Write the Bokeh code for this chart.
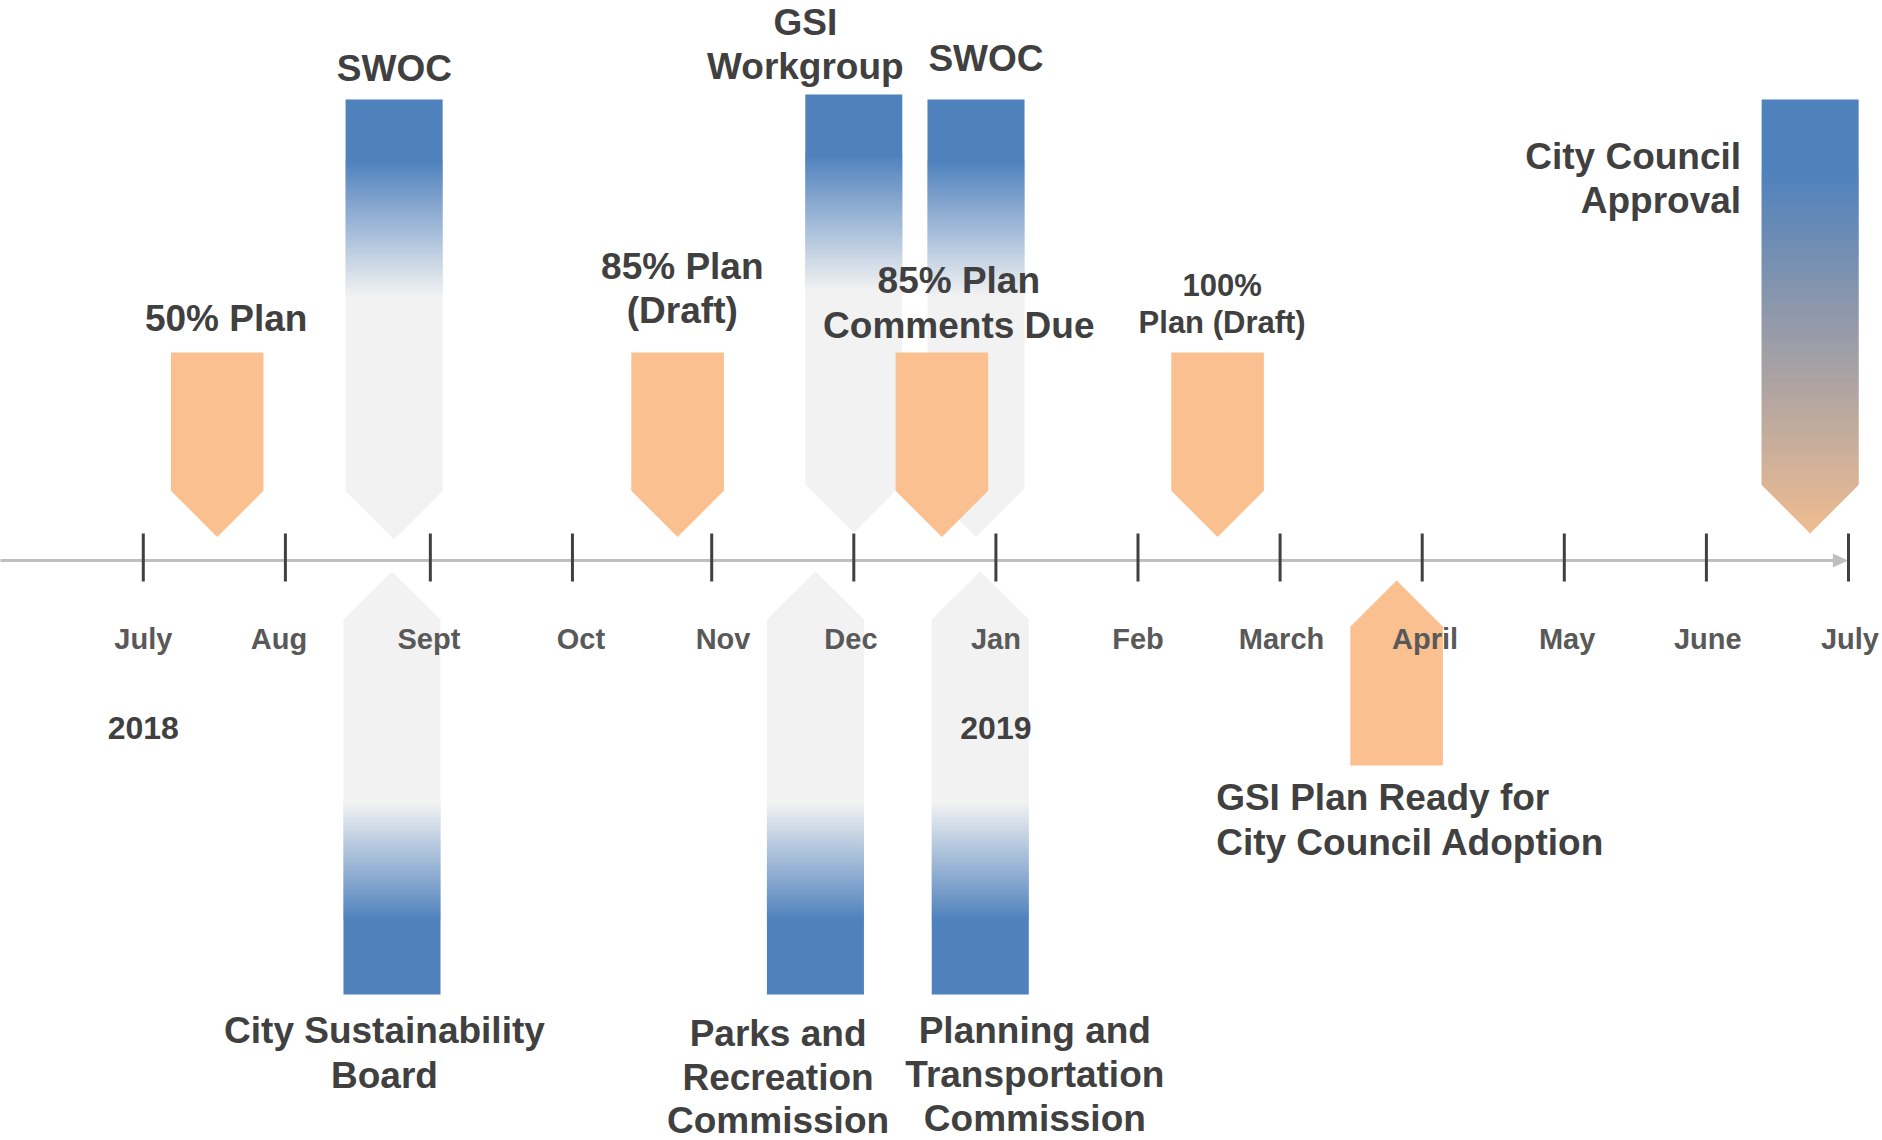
import numpy as np
from bokeh.plotting import figure
from bokeh.models import Range1d
from bokeh.embed import file_html
from bokeh.resources import INLINE
from bokeh.core.properties import value

# ---------------- data ----------------
# timeline positions are months after July 2018 (0 = July 2018, 12 = July 2019)
month_labels = ["July", "Aug", "Sept", "Oct", "Nov", "Dec", "Jan",
                "Feb", "March", "April", "May", "June", "July"]
month_ticks = [0, 1, 2.02, 3.02, 4, 5, 6, 7, 8, 9, 10, 11, 12]
year_labels = ["2018", "2019"]
year_months = [0.0, 6.0]

# milestones (orange, pointing down onto the timeline)
milestone_names = ["50% Plan", "85% Plan (Draft)", "85% Plan Comments Due", "100% Plan (Draft)"]
milestone_months = [0.52, 3.76, 5.62, 7.56]

# milestone below the timeline (orange, pointing up)
ready_names = ["GSI Plan Ready for City Council Adoption"]
ready_months = [8.82]

# meetings above the timeline (blue fading to grey, pointing down)
meeting_top_names = ["SWOC", "GSI Workgroup", "SWOC"]
meeting_top_months = [1.765, 5.00, 5.86]

# meetings below the timeline (grey fading to blue, pointing up)
meeting_bottom_names = ["City Sustainability Board", "Parks and Recreation Commission",
                        "Planning and Transportation Commission"]
meeting_bottom_months = [1.75, 4.73, 5.89]

# final approval (blue fading to orange, pointing down)
approval_names = ["City Council Approval"]
approval_months = [11.73]

# ---------------- styles / layout ----------------
BLUE = (79, 129, 189)
GREY = (242, 242, 242)
ORANGE = (250, 192, 144)
TEXT = "#404040"
MONTH_TEXT = "#595959"
FONT = value("Liberation Sans")
PX_PER_MONTH = 142.1
W, H = 1882, 1140
X0_PX = 142.8  # pixel position of month 0

month_label_nudge = [0, -0.045, -0.01, 0.06, 0.08, -0.02, 0, 0, 0.01, 0.02, 0.02, 0.01, 0.01]

p = figure(width=W, height=H,
           x_range=Range1d(-X0_PX / PX_PER_MONTH, (W - X0_PX) / PX_PER_MONTH),
           y_range=Range1d(H, 0),
           x_axis_type=None, y_axis_type=None,
           output_backend="svg", toolbar_location=None, min_border=0)
p.grid.visible = False
p.outline_line_color = None
p.background_fill_color = "white"
p.border_fill_color = "white"


def hexc(c):
    return "#%02x%02x%02x" % tuple(int(round(v)) for v in c)


def mix(c0, c1, t):
    t = min(max(t, 0.0), 1.0)
    return hexc([a + (b - a) * t for a, b in zip(c0, c1)])


def hw_down(y, h, shoulder, tip):
    if y <= shoulder:
        return h
    return max(0.0, h * (tip - y) / (tip - shoulder))


def hw_up(y, h, tip, shoulder):
    if y >= shoulder:
        return h
    return max(0.0, h * (y - tip) / (shoulder - tip))


def strips(c, g0, g1, c0, c1, hwf, xs, ys, cols):
    for y in np.arange(g0, g1, 1.0):
        y0, y1 = y, min(y + 1.6, g1)
        w0, w1 = hwf(y0), hwf(y1)
        t = (y + 0.5 - g0) / (g1 - g0)
        xs.append([c - w0, c + w0, c + w1, c - w1])
        ys.append([y0, y0, y1, y1])
        cols.append(mix(c0, c1, t))


# ---- timeline axis ----
p.segment(x0=[-1.1], y0=[560], x1=[11.92], y1=[560], line_color="#BFBFBF", line_width=3)
p.patch(x=[11.89, 11.997, 11.89], y=[553, 560, 567], fill_color="#BFBFBF", line_color=None)
p.segment(x0=month_ticks, y0=[533] * 13, x1=month_ticks, y1=[581] * 13,
          line_color="#404040", line_width=3)

# ---- meeting arrows above (blue -> grey) ----
gxs, gys, gcols = [], [], []
top_layout = [  # top, blue-until, grey-from, tip
    (99, 160, 296, 539),
    (94, 154, 290, 532),
    (99, 160, 296, 536),
]
hg = 48.5 / PX_PER_MONTH
for c, (top, g0, g1, tip) in zip(meeting_top_months, top_layout):
    shoulder = tip - 48.5
    xs_, ys_ = [c - hg, c + hg, c + hg, c, c - hg], [top, top, shoulder, tip, shoulder]
    p.patch(x=xs_, y=ys_, fill_color=hexc(GREY), line_color=None)
    p.patch(x=[c - hg, c + hg, c + hg, c - hg], y=[top, top, g0 + 0.5, g0 + 0.5],
            fill_color=hexc(BLUE), line_color=None)
    strips(c, g0, g1, BLUE, GREY, lambda y, s=shoulder, t=tip: hw_down(y, hg, s, t),
           gxs, gys, gcols)

# ---- meeting arrows below (grey -> blue) ----
for c in meeting_bottom_months:
    tip, shoulder, bottom, g0, g1 = 571, 619, 994, 802, 920
    p.patch(x=[c, c + hg, c + hg, c - hg, c - hg], y=[tip, shoulder, bottom, bottom, shoulder],
            fill_color=hexc(GREY), line_color=None)
    p.patch(x=[c - hg, c + hg, c + hg, c - hg], y=[g1 - 0.5, g1 - 0.5, bottom, bottom],
            fill_color=hexc(BLUE), line_color=None)
    strips(c, g0, g1, GREY, BLUE, lambda y, s=shoulder, t=tip: hw_up(y, hg, t, s),
           gxs, gys, gcols)

# ---- approval arrow (blue -> orange) ----
for c in approval_months:
    top, g0, tip = 99, 170, 533
    shoulder = tip - 48.5
    p.patch(x=[c - hg, c + hg, c + hg, c - hg], y=[top, top, g0 + 0.5, g0 + 0.5],
            fill_color=hexc(BLUE), line_color=None)
    strips(c, g0, tip, BLUE, (240, 188, 144), lambda y, s=shoulder, t=tip: hw_down(y, hg, s, t),
           gxs, gys, gcols)

p.patches(xs=gxs, ys=gys, fill_color=gcols, line_color=None)

# ---- orange milestone arrows ----
ho = 46.3 / PX_PER_MONTH
oxs, oys = [], []
for c in milestone_months:
    top, tip = 352, 536.5
    shoulder = tip - 46.3
    oxs.append([c - ho, c + ho, c + ho, c, c - ho])
    oys.append([top, top, shoulder, tip, shoulder])
for c in ready_months:
    tip, bottom = 580, 765
    shoulder = tip + 46.3
    oxs.append([c, c + ho, c + ho, c - ho, c - ho])
    oys.append([tip, shoulder, bottom, bottom, shoulder])
p.patches(xs=oxs, ys=oys, fill_color=hexc(ORANGE), line_color=None)

# ---- month and year labels ----
p.text(x=[m + n for m, n in zip(month_ticks, month_label_nudge)], y=[638] * 13, text=month_labels,
       text_font=FONT, text_font_style="bold", text_font_size="29px", text_color=MONTH_TEXT,
       text_align="center", text_baseline="alphabetic")
p.text(x=year_months, y=[727, 727], text=year_labels,
       text_font=FONT, text_font_style="bold", text_font_size="32px", text_color=TEXT,
       text_align="center", text_baseline="alphabetic")

# ---- event labels (text, month, baseline, align, size) ----
labels = [
    ("50% Plan", 0.583, 318, "center", 37),
    ("SWOC", 1.767, 68, "center", 37),
    ("85% Plan", 3.793, 266, "center", 37),
    ("(Draft)", 3.793, 310, "center", 37),
    ("GSI", 4.659, 22, "center", 37),
    ("Workgroup", 4.659, 66, "center", 37),
    ("SWOC", 5.93, 58, "center", 37),
    ("85% Plan", 5.739, 280, "center", 37),
    ("Comments Due", 5.739, 325, "center", 37),
    ("100%", 7.592, 285, "center", 31),
    ("Plan (Draft)", 7.592, 322, "center", 31),
    ("City Council", 11.244, 156, "right", 37),
    ("Approval", 11.244, 200, "right", 37),
    ("City Sustainability", 1.697, 1030, "center", 37),
    ("Board", 1.697, 1075, "center", 37),
    ("Parks and", 4.467, 1033, "center", 37),
    ("Recreation", 4.467, 1077, "center", 37),
    ("Commission", 4.467, 1120, "center", 37),
    ("Planning and", 6.274, 1030, "center", 37),
    ("Transportation", 6.274, 1074, "center", 37),
    ("Commission", 6.274, 1118, "center", 37),
    ("GSI Plan Ready for", 7.55, 797, "left", 37),
    ("City Council Adoption", 7.55, 842, "left", 37),
]
for txt, xm, yb, al, sz in labels:
    p.text(x=[xm], y=[yb], text=[txt], text_font=FONT, text_font_style="bold",
           text_font_size=f"{sz}px", text_color=TEXT, text_align=al, text_baseline="alphabetic")

open("out.html", "w").write(file_html(p, INLINE))
